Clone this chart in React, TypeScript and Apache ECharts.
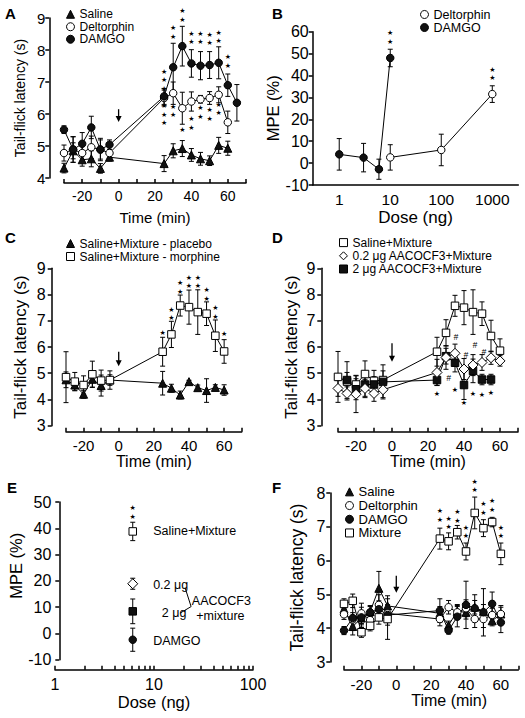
import React, { useEffect, useRef } from 'react';
import * as echarts from 'echarts';

const FONT = '"Liberation Sans", Arial, Helvetica, sans-serif';
const BLACK = '#000';

// ===== Panel A : tail-flick latency (s) vs time (min) =====
const aTime = [-30, -25, -20, -15, -10, -5, 25, 30, 35, 40, 45, 50, 55, 60];
const aDamgoTime = [-30, -25, -20, -15, -10, -5, 25, 30, 35, 40, 45, 50, 55, 60, 65];
const aSaline = [4.31, 4.85, 4.57, 4.6, 4.3, 4.65, 4.45, 4.85, 4.92, 4.72, 4.6, 4.54, 5.02, 4.93];
const aSalineErr = [0.15, 0.25, 0.2, 0.25, 0.15, 0.1, 0.25, 0.22, 0.25, 0.2, 0.2, 0.15, 0.25, 0.22];
const aDelt = [4.78, 4.89, 4.78, 4.96, 4.89, 4.78, 6.5, 6.65, 6.18, 6.39, 6.46, 6.5, 6.6, 5.74];
const aDeltErr = [0.25, 0.4, 0.25, 0.35, 0.3, 0.25, 0.25, 0.35, 0.5, 0.3, 0.12, 0.2, 0.25, 0.35];
const aDamgo = [5.51, 4.89, 5.07, 5.58, 4.89, 5.04, 6.55, 7.46, 8.12, 7.58, 7.51, 7.53, 7.6, 6.9, 6.35];
const aDamgoErr = [0.12, 0.4, 0.35, 0.35, 0.35, 0.15, 0.25, 0.75, 0.62, 0.43, 0.44, 0.42, 0.5, 0.35, 0.57];
const aStarsUp = [[25, 7.06, 3], [30, 8.55, 2], [35, 9.08, 2], [40, 8.38, 2], [45, 8.38, 2], [50, 8.35, 2], [55, 8.4, 2], [60, 7.64, 2]];
const aStarsDown = [[25, 5.97, 3], [30, 6.1, 2], [35, 5.5, 1], [40, 5.7, 2], [45, 6.05, 2], [50, 5.98, 2], [55, 6.16, 2]];
const aArrow = [0, 6.15, 5.75];

// ===== Panel B : MPE (%) vs dose (ng) =====
const bDamgoDose = [1, 3, 6, 10];
const bDamgo = [4, 2.5, -2.8, 48];
const bDamgoErr = [7.2, 6.5, 4.6, 4];
const bDeltDose = [10, 100, 1000];
const bDelt = [2.6, 6, 31.5];
const bDeltErr = [5.8, 7.2, 3.8];
const bStars = [[10, 57.4, 2], [1000, 40.7, 2]];
const bDoseLabels = [1, 10, 100, 1000];

// ===== Panel C =====
const cTime = [-30, -25, -20, -15, -10, -5, 25, 30, 35, 40, 45, 50, 55, 60];
const cPlacebo = [4.75, 4.55, 4.2, 4.77, 4.53, 4.74, 4.62, 4.43, 4.17, 4.68, 4.45, 4.34, 4.46, 4.36];
const cPlaceboErr = [0.3, 0.2, 0.15, 0.3, 0.4, 0.2, 0.45, 0.15, 0.15, 0.05, 0.1, 0.45, 0.1, 0.2];
const cMorphine = [4.85, 4.68, 4.55, 4.96, 4.72, 4.74, 5.82, 6.48, 7.58, 7.52, 7.33, 7.27, 6.43, 5.83];
const cMorphineErr = [0.97, 0.35, 0.35, 0.5, 0.4, 0.35, 0.55, 0.5, 0.4, 0.65, 0.85, 0.45, 0.6, 0.45];
const cStars = [[25, 6.54, 1], [30, 7.25, 2], [35, 8.27, 2], [40, 8.48, 2], [45, 8.48, 2], [50, 8.01, 2], [55, 7.31, 2], [60, 6.48, 1]];
const cArrow = [0, 5.82, 5.27];

// ===== Panel D =====
const dTime = [-30, -25, -20, -15, -10, -5, 25, 30, 35, 40, 45, 50, 55, 60];
const dSaline = [4.86, 4.68, 4.57, 4.97, 4.71, 4.74, 5.82, 6.54, 7.57, 7.5, 7.33, 7.27, 6.42, 5.86];
const dSalineErr = [0.97, 0.35, 0.35, 0.5, 0.4, 0.35, 0.55, 0.5, 0.4, 0.65, 0.85, 0.45, 0.6, 0.45];
const dLow = [4.42, 4.23, 4.2, 4.42, 4.23, 4.37, 5.03, 5.6, 5.76, 5.16, 5.31, 5.41, 5.59, 5.47];
const dLowErr = [0.3, 0.25, 0.7, 0.35, 0.3, 0.3, 0.5, 0.45, 0.35, 0.4, 0.4, 0.3, 0.25, 0.2];
const dHighTime = [-25, -20, -15, -10, -5, 25, 30, 35, 40, 45, 50, 55];
const dHigh = [4.74, 4.39, 4.57, 4.57, 4.67, 4.74, 5.65, 5.4, 4.55, 5.09, 4.76, 4.76];
const dHighErr = [0.7, 0.4, 0.45, 0.3, 0.65, 0.2, 0.3, 0.35, 0.55, 0.45, 0.2, 0.2];
const dStars = [[25, 4.2, 1], [35, 4.36, 1], [40, 3.85, 1], [45, 4.2, 1], [50, 4.16, 1], [55, 4.25, 1]];
const dHashes = [[31.5, 4.8, 1], [35.5, 6.39, 1], [41, 5.69, 1], [46, 6.07, 1], [51, 5.82, 1]];
const dArrow = [0, 6.14, 5.44];

// ===== Panel E =====
const eGroups = ['Saline+Mixture', '0.2 μg', '2 μg', 'DAMGO'];
const eDose = [6.1, 6.1, 6.1, 6.1];
const eMPE = [38.8, 18.9, 8.4, -2.4];
const eErr = [3.5, 2.1, 4.7, 4.4];
const eStars = [[6.1, 46, 2]];
const eDoseLabels = [1, 10, 100];
const eDoseTicks = [1, 2, 3, 4, 5, 6, 7, 8, 9, 10, 20, 30, 40, 50, 60, 70, 80, 90, 100];

// ===== Panel F =====
const fTime = [-30, -25, -20, -15, -10, -5, 25, 30, 35, 40, 45, 50, 55, 60];
const fSaline = [4.57, 4.05, 4.3, 4.49, 5.18, 4.66, 4.44, 4.09, 4.5, 4.47, 4.62, 4.5, 4.22, 4.42];
const fSalineErr = [0.15, 0.12, 0.2, 0.15, 0.5, 0.3, 0.2, 0.12, 0.2, 0.2, 0.2, 0.2, 0.15, 0.2];
const fDelt = [4.41, 4.26, 4.44, 4.24, 4.69, 4.44, 4.27, 4.62, 4.47, 4.59, 4.27, 4.27, 4.39, 4.42];
const fDeltErr = [0.15, 0.2, 0.3, 0.2, 0.3, 0.25, 0.2, 0.2, 0.2, 0.25, 0.25, 0.25, 0.2, 0.25];
const fDamgo = [3.93, 4.3, 4.32, 4.47, 4.56, 4.39, 4.52, 3.93, 4.34, 4.69, 4.59, 4.47, 4.72, 4.17];
const fDamgoErr = [0.12, 0.5, 0.3, 0.2, 0.25, 0.3, 0.35, 0.1, 0.3, 0.7, 0.4, 0.7, 0.35, 0.3];
const fMix = [4.72, 4.81, 3.88, 4.07, 4.32, 4.27, 6.65, 6.57, 6.84, 6.27, 7.41, 6.96, 7.14, 6.2];
const fMixErr = [0.15, 0.2, 0.15, 0.15, 0.2, 0.6, 0.31, 0.25, 0.2, 0.25, 0.47, 0.25, 0.14, 0.32];
const fStars = [[25, 7.33, 2], [30, 7.11, 2], [35, 7.3, 2], [40, 6.85, 2], [45, 8.2, 2], [50, 7.54, 2], [55, 7.63, 2], [60, 6.85, 2]];
const fArrow = [0, 5.55, 5.05];

// ---------- annotation layout for panel E ----------
const eNotes = [
  { text: 'Saline+Mixture', dose: 9.8, mpe: 38.8, align: 'left' },
  { text: '0.2 μg', dose: 9.8, mpe: 18.6, align: 'left' },
  { text: '2 μg', dose: 12, mpe: 7.6, align: 'left' },
  { text: 'AACOCF3', dose: 47.9, mpe: 12.4, align: 'center' },
  { text: '+mixture', dose: 46.8, mpe: 6.6, align: 'center' },
  { text: 'DAMGO', dose: 9.8, mpe: -2.8, align: 'left' },
];
const eBracket = [
  [[20.6, 17.4], [23.7, 10.2]],
  [[18.3, 7.7], [23.7, 10.2]],
];

type Mk = { symbol: string; size: number; fill: string };
const MK: Record<string, Mk> = {
  tri: { symbol: 'triangle', size: 8, fill: '#111' },
  dot: { symbol: 'circle', size: 7.5, fill: '#111' },
  ring: { symbol: 'circle', size: 7.5, fill: '#fff' },
  box: { symbol: 'rect', size: 7.5, fill: '#111' },
  obox: { symbol: 'rect', size: 7.5, fill: '#fff' },
  odia: { symbol: 'diamond', size: 10, fill: '#fff' },
};

const lg = (v: number) => Math.log10(v);
const pts = (xs: number[], ys: number[]) => xs.map((x, i) => [x, ys[i]]);

function dataLine(name: string, gi: number, xs: number[], ys: number[], mk: Mk, z = 3) {
  return {
    type: 'line', name, xAxisIndex: gi, yAxisIndex: gi, data: pts(xs, ys),
    symbol: mk.symbol, symbolSize: mk.size, showSymbol: true, clip: false,
    lineStyle: { color: BLACK, width: 1 },
    itemStyle: { color: mk.fill, borderColor: BLACK, borderWidth: 1 },
    emphasis: { disabled: true }, silent: true, z,
  };
}

function errBars(gi: number, xs: number[], ys: number[], es: number[]) {
  const data = xs.map((x, i) => [x, ys[i], es[i]]);
  return {
    type: 'custom', xAxisIndex: gi, yAxisIndex: gi, data, silent: true, z: 2,
    renderItem: (_p: any, api: any) => {
      const x = api.value(0), y = api.value(1), e = api.value(2);
      const t = api.coord([x, y + e]);
      const b = api.coord([x, y - e]);
      const st = { stroke: BLACK, lineWidth: 1 };
      return {
        type: 'group', children: [
          { type: 'line', shape: { x1: t[0], y1: t[1], x2: b[0], y2: b[1] }, style: st },
          { type: 'line', shape: { x1: t[0] - 2.5, y1: t[1], x2: t[0] + 2.5, y2: t[1] }, style: st },
          { type: 'line', shape: { x1: b[0] - 2.5, y1: b[1], x2: b[0] + 2.5, y2: b[1] }, style: st },
        ],
      };
    },
  };
}

function marks(gi: number, list: number[][], ch = '★', fs = 7, lh = 8.5, family = 'DejaVu Sans', italic = false) {
  return {
    type: 'custom', xAxisIndex: gi, yAxisIndex: gi, data: list, silent: true, z: 5,
    renderItem: (_p: any, api: any) => {
      const c = api.coord([api.value(0), api.value(1)]);
      const n = api.value(2);
      return {
        type: 'text', x: c[0], y: c[1],
        style: {
          text: Array(n).fill(ch).join('\n'), fill: BLACK, fontSize: fs,
          fontFamily: family, fontStyle: italic ? 'italic' : 'normal', fontWeight: 'normal',
          align: 'center', verticalAlign: 'middle', lineHeight: lh,
        },
      };
    },
  };
}

function arrow(gi: number, a: number[]) {
  return {
    type: 'custom', xAxisIndex: gi, yAxisIndex: gi, data: [a], silent: true, z: 4,
    renderItem: (_p: any, api: any) => {
      const s = api.coord([api.value(0), api.value(1)]);
      const e = api.coord([api.value(0), api.value(2)]);
      return {
        type: 'group', children: [
          { type: 'line', shape: { x1: s[0], y1: s[1], x2: e[0], y2: e[1] - 4 }, style: { stroke: BLACK, lineWidth: 1.3 } },
          { type: 'polygon', shape: { points: [[e[0] - 3, e[1] - 6], [e[0] + 3, e[1] - 6], [e[0], e[1]]] }, style: { fill: BLACK } },
        ],
      };
    },
  };
}

const axLine = { show: true, onZero: false, lineStyle: { color: BLACK, width: 1.5 } };
const tickStyle = { color: BLACK, width: 1.5 };

function timeX(gi: number, offset: number, fs: number, margin: number, nameFs: number, nameGap: number, pad = [0, 0, 0, 0]) {
  return {
    type: 'value', gridIndex: gi, min: -30, max: 70, interval: 10, offset,
    axisLine: axLine,
    axisTick: { show: true, inside: true, length: 4, lineStyle: tickStyle },
    axisLabel: { color: BLACK, fontSize: fs, fontWeight: 'normal', fontFamily: FONT, margin, formatter: (v: number) => (v % 20 === 0 ? String(v) : '') },
    splitLine: { show: false },
    name: 'Time (min)', nameLocation: 'middle', nameGap,
    nameTextStyle: { color: BLACK, fontSize: nameFs, fontWeight: 'normal', fontFamily: FONT, padding: pad },
  };
}

function doseX(gi: number, min: number, max: number, offset: number, fs: number, margin: number, nameFs: number, nameGap: number, labels: number[], ticks: number[] | null) {
  return {
    type: 'value', gridIndex: gi, min, max, offset,
    axisLine: axLine,
    axisTick: ticks ? { show: true, inside: true, length: 4, lineStyle: tickStyle, customValues: ticks.map(lg) } : { show: false },
    axisLabel: { color: BLACK, fontSize: fs, fontWeight: 'normal', fontFamily: FONT, margin, customValues: labels.map(lg), formatter: (v: number) => String(Math.round(Math.pow(10, v))) },
    splitLine: { show: false },
    name: 'Dose (ng)', nameLocation: 'middle', nameGap,
    nameTextStyle: { color: BLACK, fontSize: nameFs, fontWeight: 'normal', fontFamily: FONT },
  };
}

function valY(gi: number, min: number, max: number, interval: number, offset: number, fs: number, margin: number, name: string, nameFs: number, nameGap: number, pad = [0, 0, 0, 0]) {
  return {
    type: 'value', gridIndex: gi, min, max, interval, offset,
    axisLine: axLine,
    axisTick: { show: true, inside: false, length: 4, lineStyle: tickStyle },
    axisLabel: { color: BLACK, fontSize: fs, fontWeight: 'normal', fontFamily: FONT, margin },
    splitLine: { show: false },
    name, nameLocation: 'middle', nameGap, nameRotate: 90,
    nameTextStyle: { color: BLACK, fontSize: nameFs, fontWeight: 'normal', fontFamily: FONT, padding: pad },
  };
}

function legendItem(name: string, mk: Mk) {
  return { name, icon: mk.symbol, itemStyle: { color: mk.fill, borderColor: BLACK, borderWidth: 1 } };
}

function legend(left: number, top: number, fs: number, lh: number, items: any[]) {
  return {
    left, top, orient: 'vertical', itemWidth: 8, itemHeight: 8, itemGap: 0, selectedMode: false,
    padding: 0,
    textStyle: { color: BLACK, fontSize: fs, fontWeight: 'normal', fontFamily: FONT, lineHeight: lh },
    formatter: (n: string) => n.slice(2),
    data: items,
  };
}

function buildOption() {
  const series: any[] = [];
  // A (grid 0)
  series.push(errBars(0, aTime, aSaline, aSalineErr), errBars(0, aTime, aDelt, aDeltErr), errBars(0, aDamgoTime, aDamgo, aDamgoErr));
  series.push(dataLine('A:Saline', 0, aTime, aSaline, MK.tri), dataLine('A:Deltorphin', 0, aTime, aDelt, MK.ring), dataLine('A:DAMGO', 0, aDamgoTime, aDamgo, MK.dot));
  series.push(marks(0, aStarsUp), marks(0, aStarsDown), arrow(0, aArrow));
  // B (grid 1)
  const bdx = bDamgoDose.map(lg), bex = bDeltDose.map(lg);
  series.push(errBars(1, bdx, bDamgo, bDamgoErr), errBars(1, bex, bDelt, bDeltErr));
  series.push(dataLine('B:DAMGO', 1, bdx, bDamgo, MK.dot), dataLine('B:Deltorphin', 1, bex, bDelt, MK.ring));
  series.push(marks(1, bStars.map((s) => [lg(s[0]), s[1], s[2]])));
  // C (grid 2)
  series.push(errBars(2, cTime, cPlacebo, cPlaceboErr), errBars(2, cTime, cMorphine, cMorphineErr));
  series.push(dataLine('C:Saline+Mixture - placebo', 2, cTime, cPlacebo, MK.tri), dataLine('C:Saline+Mixture - morphine', 2, cTime, cMorphine, MK.obox));
  series.push(marks(2, cStars), arrow(2, cArrow));
  // D (grid 3)
  series.push(errBars(3, dTime, dSaline, dSalineErr), errBars(3, dTime, dLow, dLowErr), errBars(3, dHighTime, dHigh, dHighErr));
  series.push(dataLine('D:Saline+Mixture', 3, dTime, dSaline, MK.obox), dataLine('D:2 μg AACOCF3+Mixture', 3, dHighTime, dHigh, MK.box), dataLine('D:0.2 μg AACOCF3+Mixture', 3, dTime, dLow, MK.odia));
  series.push(marks(3, dStars), marks(3, dHashes, '#', 8.5, 9, FONT, true), arrow(3, dArrow));
  // E (grid 4)
  const eMk = [MK.obox, MK.odia, MK.box, MK.dot];
  const ex = eDose.map(lg);
  series.push(errBars(4, ex, eMPE, eErr));
  eGroups.forEach((g, i) => {
    series.push(dataLine('E:' + g, 4, [ex[i]], [eMPE[i]], eMk[i]));
  });
  series.push(marks(4, eStars.map((s) => [lg(s[0]), s[1], s[2]])));
  series.push({
    type: 'custom', xAxisIndex: 4, yAxisIndex: 4, silent: true, z: 5,
    data: eNotes.map((n) => [lg(n.dose), n.mpe]),
    renderItem: (p: any, api: any) => {
      const c = api.coord([api.value(0), api.value(1)]);
      const n = eNotes[p.dataIndex];
      return { type: 'text', x: c[0], y: c[1], style: { text: n.text, fill: BLACK, fontSize: 12.5, fontWeight: 'normal', fontFamily: FONT, align: n.align, verticalAlign: 'middle' } };
    },
  });
  series.push({
    type: 'custom', xAxisIndex: 4, yAxisIndex: 4, silent: true, z: 5,
    data: eBracket.map((_, i) => [i]),
    renderItem: (p: any, api: any) => {
      const seg = eBracket[p.dataIndex];
      const a = api.coord([lg(seg[0][0]), seg[0][1]]);
      const b = api.coord([lg(seg[1][0]), seg[1][1]]);
      return { type: 'line', shape: { x1: a[0], y1: a[1], x2: b[0], y2: b[1] }, style: { stroke: BLACK, lineWidth: 1 } };
    },
  });
  // F (grid 5)
  series.push(errBars(5, fTime, fSaline, fSalineErr), errBars(5, fTime, fDelt, fDeltErr), errBars(5, fTime, fDamgo, fDamgoErr), errBars(5, fTime, fMix, fMixErr));
  series.push(dataLine('F:Saline', 5, fTime, fSaline, MK.tri), dataLine('F:Deltorphin', 5, fTime, fDelt, MK.ring), dataLine('F:DAMGO', 5, fTime, fDamgo, MK.dot), dataLine('F:Mixture', 5, fTime, fMix, MK.obox));
  series.push(marks(5, fStars), arrow(5, fArrow));

  const letter = (t: string, left: number, top: number) => ({
    type: 'text', left, top, style: { text: t, fill: BLACK, font: 'bold 15px "Liberation Sans", Arial, sans-serif' },
  });

  return {
    animation: false,
    backgroundColor: '#fff',
    textStyle: { fontFamily: FONT, fontWeight: 'normal' },
    grid: [
      { left: 64, top: 18, width: 182, height: 160 },
      { left: 312.7, top: 31.7, width: 205.6, height: 153.3 },
      { left: 66, top: 268.3, width: 175.7, height: 157.4 },
      { left: 338, top: 268.3, width: 180, height: 157.4 },
      { left: 55, top: 502, width: 198, height: 157.7 },
      { left: 344, top: 493, width: 174.3, height: 169 },
    ],
    xAxis: [
      timeX(0, 5, 14, 6, 15, 27),
      doseX(1, -0.52, 3.51, 0, 15.5, 6, 17, 24, bDoseLabels, null),
      timeX(2, 6, 15, 6, 16, 22),
      timeX(3, 6, 15, 6, 16, 22),
      doseX(4, 0, 2, 10, 16, 7, 16.5, 18, eDoseLabels, eDoseTicks),
      timeX(5, 7.7, 15, 7, 16, 22, [0, 0, 0, 36]),
    ],
    yAxis: [
      valY(0, 4, 9, 1, 14.7, 15, 4, 'Tail-flick latency (s)', 14, 22),
      valY(1, -10, 60, 10, 0, 16, 4, 'MPE (%)', 16.5, 25),
      valY(2, 3, 9, 1, 14.3, 16, 6, 'Tail-flick latency (s)', 17, 23),
      valY(3, 3, 9, 1, 16.7, 16, 6, 'Tail-flick latency (s)', 17, 21),
      valY(4, -10, 50, 10, -4.3, 16, 8, 'MPE (%)', 16.5, 31, [0, 0, 0, 30]),
      valY(5, 3, 8, 1, 13.7, 16, 5, 'Tail-flick latency (s)', 17.5, 24),
    ],
    legend: [
      legend(66, 8, 12, 12.5, [legendItem('A:Saline', MK.tri), legendItem('A:Deltorphin', MK.ring), legendItem('A:DAMGO', MK.dot)]),
      legend(420, 8, 12.5, 11, [legendItem('B:Deltorphin', MK.ring), legendItem('B:DAMGO', MK.dot)]),
      legend(66, 237, 12, 13, [legendItem('C:Saline+Mixture - placebo', MK.tri), legendItem('C:Saline+Mixture - morphine', MK.obox)]),
      legend(339, 236, 12, 13.2, [legendItem('D:Saline+Mixture', MK.obox), legendItem('D:0.2 μg AACOCF3+Mixture', MK.odia), legendItem('D:2 μg AACOCF3+Mixture', MK.box)]),
      legend(345, 485, 13, 13.7, [legendItem('F:Saline', MK.tri), legendItem('F:Deltorphin', MK.ring), legendItem('F:DAMGO', MK.dot), legendItem('F:Mixture', MK.obox)]),
    ],
    graphic: [
      letter('A', 5, 6), letter('B', 272, 6), letter('C', 5, 230),
      letter('D', 272, 230), letter('E', 7, 480), letter('F', 272, 480),
    ],
    series,
  };
}

export default function App() {
  const ref = useRef<HTMLDivElement>(null);
  useEffect(() => {
    if (!ref.current) return;
    const chart = echarts.init(ref.current, undefined, { renderer: 'svg' });
    chart.setOption(buildOption() as any);
    return () => chart.dispose();
  }, []);
  return (
    <div
      ref={ref}
      style={{ position: 'absolute', left: 0, top: 0, width: 525, height: 718, background: '#fff' }}
    />
  );
}
